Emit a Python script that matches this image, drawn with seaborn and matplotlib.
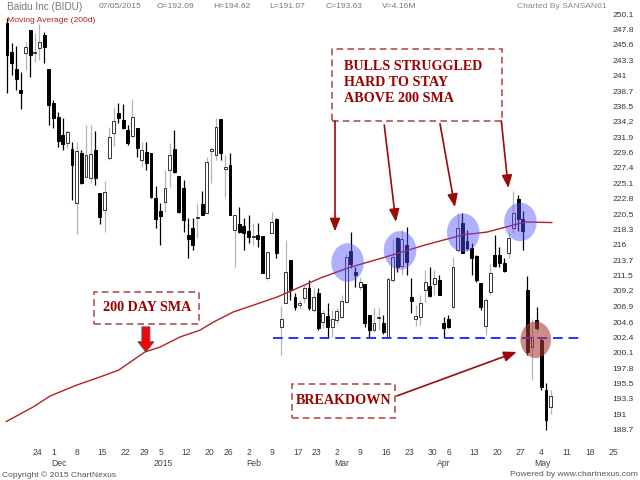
import numpy as np
import pandas as pd
import matplotlib
matplotlib.use('Agg')
import matplotlib.pyplot as plt
import matplotlib.transforms as mtransforms
from matplotlib.patches import Ellipse, Rectangle, FancyArrow
import seaborn as sns

# Baidu daily candles, 17 Nov 2014 .. 7 May 2015
opens = [248.8, 244.5, 242.0, 238.9, 244.4, 247.7, 244.4, 245.1, 247.0, 242.0,
         237.0, 234.9, 232.2, 231.1, 230.2, 222.2, 229.6, 226.0, 225.9, 230.0,
         223.7, 221.2, 228.8, 232.5, 235.5, 234.5, 233.0, 232.1, 233.3, 228.5,
         229.7, 229.6, 222.9, 221.0, 222.4, 227.1, 230.2, 226.2, 224.4, 217.5,
         218.5, 220.0, 222.1, 220.7, 229.9, 229.3, 234.6, 227.2, 227.8, 218.2,
         219.1, 218.8, 218.1, 217.1, 217.5, 217.3, 211.1, 217.8, 219.8, 203.9,
         207.4, 213.8, 208.3, 207.2, 208.2, 209.7, 206.4, 208.9, 204.6, 205.5,
         203.9, 204.9, 205.3, 207.6, 215.1, 212.0, 209.8, 210.2, 205.6, 203.4,
         205.2, 204.5, 202.4, 210.8, 217.0, 212.9, 216.0, 208.3, 205.0, 205.4,
         209.3, 209.9, 210.2, 210.8, 204.5, 205.0, 206.8, 215.2, 219.2, 216.6,
         215.6, 214.4, 210.4, 204.0, 209.0, 214.5, 214.5, 213.3, 214.8, 218.5,
         222.8, 219.9, 209.4, 200.9, 204.9, 202.0, 194.6, 192.09]
highs = [249.5, 245.8, 245.4, 241.5, 246.0, 247.7, 247.3, 248.6, 247.4, 242.0,
         237.4, 235.6, 234.8, 233.0, 231.2, 231.2, 230.0, 233.7, 233.7, 232.8,
         223.7, 225.4, 233.4, 236.4, 237.0, 236.8, 233.7, 237.6, 233.3, 231.2,
         231.2, 229.6, 224.7, 222.2, 227.1, 231.1, 233.0, 226.2, 225.6, 220.0,
         220.0, 222.2, 224.0, 229.0, 230.5, 234.8, 234.6, 229.3, 229.6, 220.4,
         221.6, 220.0, 220.4, 219.3, 219.3, 217.3, 215.0, 220.9, 220.0, 207.0,
         216.7, 213.8, 208.9, 207.9, 210.1, 210.8, 209.7, 209.7, 206.4, 207.4,
         206.4, 206.7, 208.6, 214.7, 217.9, 212.8, 211.3, 210.2, 205.6, 206.7,
         206.7, 205.6, 211.3, 216.7, 217.2, 218.2, 218.6, 211.1, 207.1, 208.6,
         212.3, 212.7, 212.3, 211.5, 205.3, 205.6, 214.2, 220.7, 220.7, 218.2,
         216.3, 214.5, 210.4, 208.2, 213.3, 217.5, 215.7, 214.1, 217.8, 224.0,
         223.4, 221.0, 211.4, 205.0, 206.8, 202.2, 195.6, 194.62]
lows = [238.4, 241.1, 238.9, 236.1, 241.8, 240.8, 243.0, 243.3, 242.9, 233.7,
        233.3, 230.5, 230.0, 230.3, 222.6, 217.6, 225.0, 226.0, 225.2, 224.9,
        219.1, 217.9, 228.5, 230.6, 234.0, 233.1, 230.8, 231.9, 229.0, 227.5,
        227.1, 222.9, 218.5, 216.0, 220.9, 224.6, 226.6, 220.7, 217.9, 214.1,
        215.3, 217.0, 220.4, 220.7, 225.2, 228.5, 228.5, 223.1, 220.4, 212.8,
        217.8, 215.3, 216.3, 216.0, 215.7, 211.9, 210.8, 217.8, 214.1, 199.7,
        207.4, 207.9, 206.4, 206.6, 207.4, 206.4, 206.1, 203.4, 203.7, 202.4,
        202.4, 204.4, 205.2, 207.4, 212.6, 209.8, 209.3, 203.9, 202.4, 203.1,
        203.4, 202.9, 202.3, 210.5, 212.0, 211.6, 211.6, 205.9, 204.0, 204.2,
        207.6, 208.3, 208.6, 208.6, 202.2, 203.7, 206.7, 214.9, 214.8, 215.3,
        211.5, 210.5, 206.4, 202.7, 208.6, 212.7, 212.7, 212.0, 214.1, 217.8,
        218.0, 215.3, 199.7, 196.0, 203.4, 194.6, 188.7, 191.07]
closes = [244.0, 242.9, 240.5, 238.4, 245.2, 244.0, 244.5, 246.0, 245.2, 236.7,
          234.8, 231.4, 230.9, 232.7, 227.8, 229.9, 225.2, 229.3, 229.4, 225.9,
          220.1, 223.8, 231.9, 234.3, 234.8, 233.3, 231.1, 234.9, 230.3, 230.0,
          228.1, 223.1, 219.8, 220.3, 224.4, 229.3, 226.8, 220.9, 219.7, 216.9,
          216.0, 220.2, 220.4, 228.3, 230.1, 233.4, 229.6, 227.5, 220.4, 220.4,
          217.9, 217.8, 217.2, 217.3, 216.9, 211.9, 215.0, 219.4, 214.8, 205.0,
          212.0, 209.4, 206.8, 207.4, 209.7, 206.7, 208.3, 203.7, 206.0, 203.9,
          205.0, 206.3, 207.7, 214.2, 213.2, 211.6, 210.5, 204.5, 203.4, 204.5,
          205.4, 203.1, 210.9, 214.2, 212.7, 216.9, 213.5, 207.7, 205.5, 207.4,
          210.5, 208.4, 211.1, 208.6, 203.7, 203.9, 212.7, 218.5, 214.8, 215.6,
          214.1, 210.8, 206.8, 207.9, 211.9, 212.9, 213.3, 212.1, 217.0, 220.7,
          219.8, 218.0, 200.2, 202.4, 203.7, 195.0, 190.1, 193.63]

# 200 day moving average, sampled along the drawn line (candle index, price)
sma_idx = [-0.2, 5.7, 9.3, 15.0, 20.0, 24.0, 29.7, 32.9, 37.2, 41.5, 44.4, 48.7,
           53.0, 58.1, 63.1, 67.4, 73.8, 81.4, 90.0, 98.2, 103.3, 110.4, 111.9, 117.3]
sma_vals = [189.9, 192.1, 193.7, 195.3, 196.5, 197.5, 200.2, 200.9, 202.4, 203.4, 204.6, 206.1,
            207.1, 208.3, 209.8, 211.1, 212.7, 214.2, 216.0, 217.5, 217.9, 219.2, 219.4, 219.3]

support_level = 202.3
support_span = (57.2, 124.1)

# candles touched the SMA here (blue) and broke support here (red)
touch_centres = [(73.3, 213.4), (84.6, 215.2), (98.2, 217.8), (110.5, 219.4)]
break_centre = (113.8, 202.0)

holidays = ['2014-11-27', '2014-12-25', '2015-01-01', '2015-01-19', '2015-02-16', '2015-04-03']
ytick_labels = ['250.1', '247.8', '245.6', '243.3', '241', '238.7', '236.5', '234.2',
                '231.9', '229.6', '227.4', '225.1', '222.8', '220.5', '218.3', '216',
                '213.7', '211.5', '209.2', '206.9', '204.6', '202.4', '200.1', '197.8',
                '195.5', '193.3', '191', '188.7']

header = ['Baidu Inc (BIDU)', '07/05/2015', 'O=192.09', 'H=194.62', 'L=191.07',
          'C=193.63', 'V=4.16M']
header_x = [7, 99, 157, 213, 269, 326, 382]

sns.set_theme(style='white')
plt.rcParams['font.family'] = ['Liberation Sans', 'DejaVu Sans']

days = pd.bdate_range('2014-11-17', '2015-05-29')
days = days[~days.isin(pd.to_datetime(holidays))]

fig = plt.figure(figsize=(6.4, 4.8), dpi=100)
ax = fig.add_axes([0, 1 - 442 / 480, 611 / 640, 430 / 480])

o, h, l, c = (np.array(v) for v in (opens, highs, lows, closes))
x = np.arange(len(o))
up = c >= o
body_lo = np.minimum(o, c)
body_h = np.maximum(np.abs(c - o), 0.12)

ax.vlines(x[up], l[up], h[up], color='#b4b4b4', lw=0.9, zorder=2)
ax.vlines(x[~up], l[~up], h[~up], color='black', lw=0.9, zorder=2)
ax.bar(x[up], body_h[up], bottom=body_lo[up], width=0.62, color='white',
       edgecolor='#333333', linewidth=0.7, zorder=3)
ax.bar(x[~up], body_h[~up], bottom=body_lo[~up], width=0.62, color='black',
       edgecolor='black', linewidth=0.7, zorder=3)

sns.lineplot(x=sma_idx, y=sma_vals, ax=ax, color='#b22222', lw=1.0, zorder=4)

ax.hlines(support_level, *support_span, color='#2f2fff', lw=1.4,
          linestyles=(0, (5, 3)), zorder=4)

for cx, cy in touch_centres:
    ax.add_patch(Ellipse((cx, cy), 7.0, 5.7, color='#5050ff', alpha=0.45, lw=0, zorder=5))
ax.add_patch(Ellipse(break_centre, 6.6, 5.4, color='#a83a3a', alpha=0.58, lw=0, zorder=5))

# annotation boxes
box_style = dict(fc='white', ec='#b45050', ls=(0, (4, 2.5)), lw=1.2, zorder=6)
txt_style = dict(family='Liberation Serif', weight='bold', size=10.2, color='#990000', zorder=7)
ax.add_patch(Rectangle((70.0, 234.3), 36.5, 10.6, **box_style))
ax.text(72.6, 240.0, 'BULLS STRUGGLED\nHARD TO STAY\nABOVE 200 SMA', ha='left',
        va='center', linespacing=1.3, **txt_style)
ax.add_patch(Rectangle((18.8, 204.3), 22.6, 4.7, **box_style))
ax.text(30.1, 206.7, '200 DAY SMA', ha='center', va='center', **txt_style)
ax.add_patch(Rectangle((61.3, 190.5), 22.2, 5.0, **box_style))
ax.text(72.4, 193.0, 'BREAKDOWN', ha='center', va='center', **txt_style)

arrow_props = dict(arrowstyle='-|>,head_length=0.55,head_width=0.22', color='#9b0a0a',
                   lw=1.2, mutation_scale=14, shrinkA=0, shrinkB=0)
for tail, tip in [((70.6, 234.3), (70.6, 218.0)), ((81.2, 233.7), (83.7, 219.4)),
                  ((93.2, 233.9), (96.4, 221.6)), ((106.4, 234.3), (107.9, 224.4)),
                  ((83.9, 193.7), (109.7, 200.2))]:
    ax.annotate('', xy=tip, xytext=tail, arrowprops=arrow_props, zorder=7)

ax.add_patch(FancyArrow(29.9, 203.9, 0, -3.7, width=1.7, head_width=3.4, head_length=1.5,
                        length_includes_head=True, fc='#ff0000', ec='#555555', lw=0.7,
                        zorder=7))

# axes
ax.set_xlim(-1.5, 130.0)
ax.set_ylim(186.9, 250.4)
for s in ax.spines.values():
    s.set_visible(False)

week_idx = [i for i in range(1, len(days))
            if days[i].isocalendar()[1] != days[i - 1].isocalendar()[1] and i < 131]
month_idx = [i for i in range(1, len(days)) if days[i].month != days[i - 1].month]
month_lbls = ['2015' if days[i].month == 1 else days[i].strftime('%b') for i in month_idx]

ax.xaxis.remove_overlapping_locs = False
ax.set_xticks(week_idx)
ax.set_xticklabels([str(days[i].day) for i in week_idx])
ax.set_xticks(month_idx, minor=True)
ax.set_xticklabels(month_lbls, minor=True)
ax.tick_params(axis='x', which='major', length=0, pad=4, labelsize=6.2, labelcolor='#444444')
ax.tick_params(axis='x', which='minor', length=0, pad=12.5, labelsize=6.2, labelcolor='#444444')
shift = mtransforms.ScaledTranslation(2.5 / 100, 0, fig.dpi_scale_trans)
for lab in ax.get_xticklabels(which='both'):
    lab.set_horizontalalignment('left')
    lab.set_transform(lab.get_transform() + shift)

ax.yaxis.tick_right()
ax.set_yticks([float(v) for v in ytick_labels])
ax.set_yticklabels(ytick_labels)
ax.tick_params(axis='y', length=0, pad=1, labelsize=6.1, labelcolor='#333333')
ax.grid(False)

# header and footer
for txt, px in zip(header, header_x):
    fig.text(px / 640, 1 - 7 / 480, txt, ha='left', va='center', color='#777777',
             size=7.2 if px == 7 else 6.1)
fig.text(607 / 640, 1 - 7 / 480, 'Charted By SANSAN01', ha='right', va='center',
         color='#888888', size=6.1)
fig.text(7 / 640, 1 - 21 / 480, 'Moving Average (200d)', ha='left', va='center',
         color='#b22222', size=6.1)
fig.text(2 / 640, 1 - 475 / 480, 'Copyright \u00a9 2015 ChartNexus', ha='left', va='center',
         color='#555555', size=6.1)
fig.text(638 / 640, 1 - 475 / 480, 'Powered by www.chartnexus.com', ha='right', va='center',
         color='#555555', size=6.1)

fig.savefig('out.png', dpi=100)
